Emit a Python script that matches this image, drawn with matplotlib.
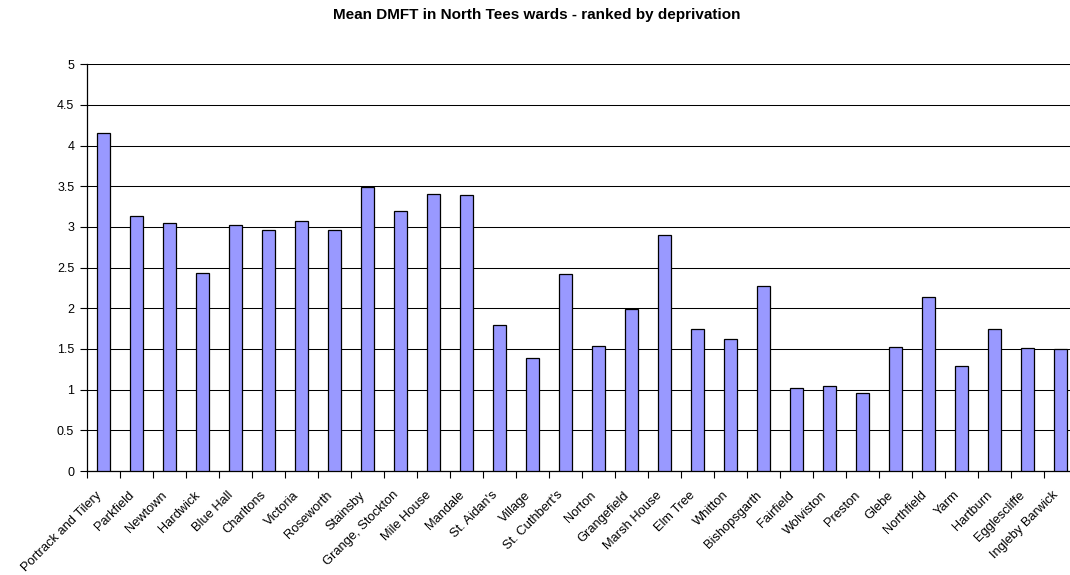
import matplotlib
matplotlib.use("Agg")
import matplotlib.pyplot as plt
import matplotlib.transforms as mtransforms
import numpy as np

wards = [
    "Portrack and Tilery", "Parkfield", "Newtown", "Hardwick", "Blue Hall",
    "Charltons", "Victoria", "Roseworth", "Stainsby", "Grange, Stockton",
    "Mile House", "Mandale", "St. Aidan's", "Village", "St. Cuthbert's",
    "Norton", "Grangefield", "Marsh House", "Elm Tree", "Whitton",
    "Bishopsgarth", "Fairfield", "Wolviston", "Preston", "Glebe",
    "Northfield", "Yarm", "Hartburn", "Egglescliffe", "Ingleby Barwick",
]
mean_dmft = [
    4.16, 3.14, 3.05, 2.44, 3.03,
    2.96, 3.07, 2.96, 3.49, 3.20,
    3.41, 3.39, 1.80, 1.39, 2.42,
    1.54, 1.99, 2.90, 1.74, 1.62,
    2.27, 1.02, 1.04, 0.96, 1.53,
    2.14, 1.29, 1.75, 1.51, 1.50,
]
y_ticks = [0, 0.5, 1, 1.5, 2, 2.5, 3, 3.5, 4, 4.5, 5]
y_tick_labels = ["0", "0.5", "1", "1.5", "2", "2.5", "3", "3.5", "4", "4.5", "5"]

plt.rcParams["font.family"] = ["Liberation Sans", "DejaVu Sans"]

W, H = 1070, 575
fig = plt.figure(figsize=(W / 100, H / 100), dpi=100)
fig.patch.set_facecolor("white")

left_px, right_px = 86.7, 1076.7
bottom_px, top_px = 471.0, 64.3
ax = fig.add_axes([left_px / W, 1 - bottom_px / H,
                   (right_px - left_px) / W, (bottom_px - top_px) / H])

x = np.arange(len(wards))
ax.bar(x, mean_dmft, width=0.4, color="#9999FF", edgecolor="black",
       linewidth=0.9, zorder=3)

ax.set_xlim(-0.5, len(wards) - 0.5)
ax.set_ylim(0, 5)

# horizontal gridlines
ax.set_yticks(y_ticks)
ax.set_yticklabels(y_tick_labels, fontsize=9)
ax.yaxis.grid(True, color="black", linewidth=0.75, zorder=1)
ax.set_axisbelow(True)

# category boundary ticks, labels at category centres
ax.set_xticks(np.arange(-0.5, len(wards), 1.0))
ax.set_xticklabels([])
ax.set_xticks(x, minor=True)
ax.set_xticklabels(wards, minor=True, rotation=45, ha="right", va="top",
                   rotation_mode="anchor", fontsize=9.3)
ax.tick_params(axis="x", which="major", direction="out", length=5,
               width=0.8, color="black")
ax.tick_params(axis="x", which="minor", length=0, pad=13)
ax.tick_params(axis="y", direction="out", length=5, width=0.8,
               color="black", pad=4)

# nudge the slanted labels so they end just left of each bar
shift = mtransforms.ScaledTranslation(-8 / 100, 0, fig.dpi_scale_trans)
for lbl in ax.get_xticklabels(minor=True):
    lbl.set_transform(lbl.get_transform() + shift)

for side in ("top", "right"):
    ax.spines[side].set_visible(False)
for side in ("left", "bottom"):
    ax.spines[side].set_linewidth(0.9)
    ax.spines[side].set_color("black")

fig.text(537 / W, 1 - 15 / H, "Mean DMFT in North Tees wards - ranked by deprivation",
         ha="center", va="center", fontsize=11, fontweight="bold")

fig.savefig("out.png", dpi=100, facecolor="white")
